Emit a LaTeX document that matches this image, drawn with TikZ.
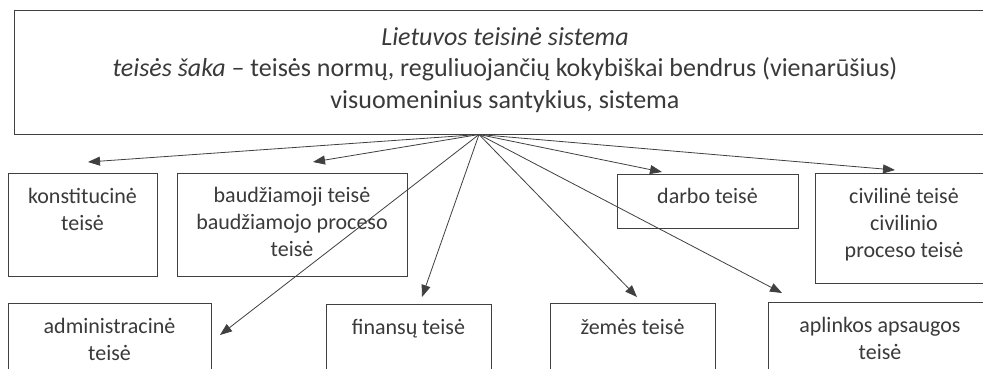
\documentclass[tikz,border=0pt]{standalone}
\usepackage{fontspec}
\setmainfont{Carlito}
\usetikzlibrary{arrows.meta}
\definecolor{txt}{HTML}{3A3A3A}
\definecolor{ln}{HTML}{404040}
\begin{document}
\begin{tikzpicture}[x=1pt,y=-1pt,
  box/.style={draw=ln, line width=0.9pt, anchor=north west, inner sep=0pt},
  bigtxt/.style={text=txt, align=center, inner sep=0pt, font=\fontsize{26}{31.5}\selectfont},
  smalltxt/.style={text=txt, align=center, inner sep=0pt, font=\fontsize{22}{26.7}\selectfont},
  arr/.style={draw=ln, line width=0.8pt, -{Triangle[length=12pt,width=9pt]}}]
\useasboundingbox (0,0) rectangle (983,369);
\clip (0,0) rectangle (983,369);
\fill[white] (0,0) rectangle (983,369);
% boxes
\node[box, minimum width=982pt, minimum height=124pt] (top) at (14,10) {};
\node[box, minimum width=149pt, minimum height=103pt] (konst) at (8,173) {};
\node[box, minimum width=230pt, minimum height=103pt] (baud) at (177,173) {};
\node[box, minimum width=181pt, minimum height=54pt] (darbo) at (617,174) {};
\node[box, minimum width=178pt, minimum height=110pt] (civil) at (815,173) {};
\node[box, minimum width=203pt, minimum height=100pt] (admin) at (8,303) {};
\node[box, minimum width=165pt, minimum height=100pt] (fin) at (326,304) {};
\node[box, minimum width=165pt, minimum height=100pt] (zem) at (550,303) {};
\node[box, minimum width=224pt, minimum height=100pt] (apl) at (768,302) {};
% texts (anchor=base is the baseline of the last line)
\node[bigtxt, anchor=base] (toptext) at (505,108) {\textit{Lietuvos teisinė sistema}\\\textit{teisės šaka} – teisės normų, reguliuojančių kokybiškai bendrus (vienarūšius)\\visuomeninius santykius, sistema};
\node[smalltxt, anchor=base] (konsttext) at (82.5,230) {konstitucinė\\teisė};
\node[smalltxt, anchor=base] (baudtext) at (292,256) {baudžiamoji teisė\\baudžiamojo proceso\\teisė};
\node[smalltxt, anchor=base] (darbotext) at (707.5,203) {darbo teisė};
\node[smalltxt, anchor=base] (civiltext) at (904,257) {civilinė teisė\\civilinio\\proceso teisė};
\node[smalltxt, anchor=base] (admintext) at (109.5,360) {administracinė\\teisė};
\node[smalltxt, anchor=base] (fintext) at (408.5,334) {finansų teisė};
\node[smalltxt, anchor=base] (zemtext) at (632.5,334) {žemės teisė};
\node[smalltxt, anchor=base] (apltext) at (880,359) {aplinkos apsaugos\\teisė};
% connectors
\coordinate (hub) at (479,134.5);
\coordinate (tk) at (88,162);
\coordinate (tb) at (313,162);
\coordinate (td) at (662,172);
\coordinate (tc) at (895,170);
\coordinate (ta) at (220,335);
\coordinate (tf) at (422,297);
\coordinate (tz) at (637,297);
\coordinate (tp) at (782,293);
\foreach \t in {tk,tb,td,tc,ta,tf,tz,tp} \draw[arr] (hub) -- (\t);
\end{tikzpicture}
\end{document}
